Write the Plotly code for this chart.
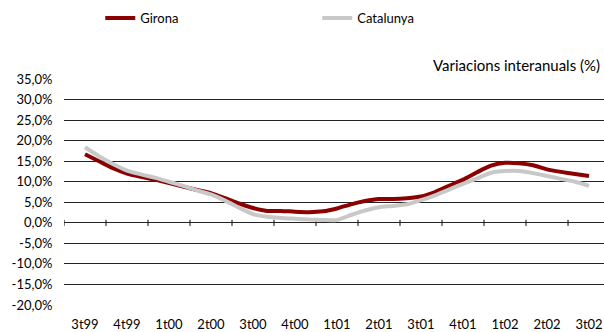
import plotly.graph_objects as go

quarters = ["3t99", "4t99", "1t00", "2t00", "3t00", "4t00", "1t01",
            "2t01", "3t01", "4t01", "1t02", "2t02", "3t02"]
# monthly interannual variation (%), Jul-99 .. Jul-02
girona = [16.7, 15.0, 13.3, 12.0, 11.2, 10.5, 9.7, 8.8, 8.0, 7.2, 6.0, 4.7,
          3.6, 2.9, 2.9, 2.7, 2.6, 2.8, 3.5, 4.5, 5.3, 5.8, 5.8, 6.0,
          6.4, 7.5, 9.0, 10.5, 12.3, 13.9, 14.6, 14.5, 14.0, 13.0, 12.4, 11.9, 11.4]
catalunya = [18.4, 16.2, 14.3, 12.7, 11.8, 11.0, 10.0, 9.0, 7.9, 6.9, 5.4, 3.7,
             2.1, 1.5, 1.2, 1.0, 0.8, 0.7, 0.7, 1.9, 3.0, 3.8, 4.1, 4.5,
             5.5, 6.7, 8.1, 9.5, 10.8, 12.2, 12.6, 12.6, 12.1, 11.4, 10.7, 10.0, 9.0]
y_ticks = list(range(-20, 40, 5))
y_labels = [f"{v:.1f}".replace(".", ",") + "%" for v in y_ticks]

months = list(range(len(girona)))
per_q = 3
q_centers = [i * per_q for i in range(len(quarters))]
q_bounds = [c - per_q / 2 for c in q_centers] + [q_centers[-1] + per_q / 2]

FONT = "Lato"
FS = 13
fig = go.Figure()
fig.add_trace(go.Scatter(x=months, y=girona, name="Girona", mode="lines",
                         line=dict(color="#8B0000", width=4, shape="spline", smoothing=0.6)))
fig.add_trace(go.Scatter(x=months, y=catalunya, name="Catalunya", mode="lines",
                         line=dict(color="#C8C8C8", width=4, shape="spline", smoothing=0.6)))

# tick marks across the zero line
for b in q_bounds:
    fig.add_shape(type="line", xref="x", yref="y", x0=b, x1=b, y0=-0.75, y1=0.75,
                  line=dict(color="#000000", width=1), layer="below")

fig.update_layout(
    width=604, height=332,
    margin=dict(l=64, r=0, t=79, b=27, autoexpand=False),
    paper_bgcolor="white", plot_bgcolor="white",
    font=dict(family=FONT, size=FS, color="#000000"),
    showlegend=True,
    legend=dict(orientation="h", xref="container", yref="container",
                x=0.166, y=1.0 - 3 / 332, xanchor="left", yanchor="top",
                entrywidth=172, entrywidthmode="pixels",
                font=dict(family=FONT, size=FS, color="#000000"),
                bgcolor="rgba(0,0,0,0)"),
    xaxis=dict(range=[-1.5, 37.07], tickmode="array", tickvals=q_centers,
               ticktext=quarters, showgrid=False, zeroline=False, showline=False,
               ticks="outside", ticklen=7, tickcolor="rgba(0,0,0,0)",
               tickfont=dict(family=FONT, size=FS)),
    yaxis=dict(range=[-20, 35], tickmode="array", tickvals=y_ticks, ticktext=y_labels,
               showgrid=True, gridcolor="#222222", gridwidth=1,
               zeroline=True, zerolinecolor="#222222", zerolinewidth=1,
               showline=False, ticks="outside", ticklen=8, tickcolor="rgba(0,0,0,0)",
               tickfont=dict(family=FONT, size=FS)),
    annotations=[dict(text="Variacions interanuals (%)", xref="paper", yref="paper",
                      x=1.0, y=1.0, xanchor="right", yanchor="bottom", yshift=3,
                      xshift=-2, showarrow=False, font=dict(family=FONT, size=15))],
)
fig.write_html("out.html", config={"displayModeBar": False},
               post_script="document.body.style.margin='0';")
